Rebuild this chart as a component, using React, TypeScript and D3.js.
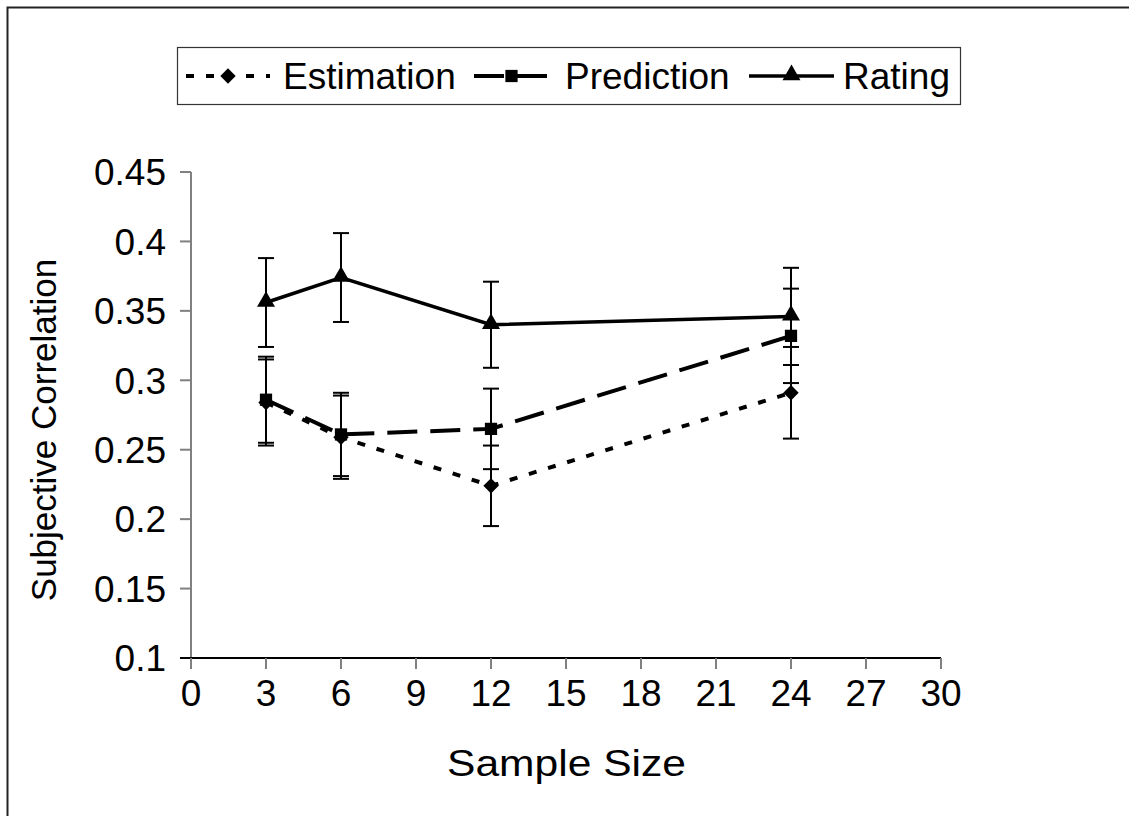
import React from "react";
import * as d3 from "d3";

const sampleSizes = [3, 6, 12, 24];
const estimation = [0.284, 0.259, 0.224, 0.291];
const estimationErr = [0.031, 0.03, 0.029, 0.033];
const prediction = [0.286, 0.261, 0.265, 0.332];
const predictionErr = [0.031, 0.03, 0.029, 0.034];
const rating = [0.356, 0.374, 0.34, 0.346];
const ratingErr = [0.032, 0.032, 0.031, 0.035];

const xTicks = [0, 3, 6, 9, 12, 15, 18, 21, 24, 27, 30];
const yTicks = [0.1, 0.15, 0.2, 0.25, 0.3, 0.35, 0.4, 0.45];
const seriesNames = ["Estimation", "Prediction", "Rating"];

const W = 1129;
const H = 816;
const FONT = "'Liberation Sans', Arial, sans-serif";

const x = d3.scaleLinear().domain([0, 30]).range([191, 941]);
const y = d3.scaleLinear().domain([0.1, 0.45]).range([658, 172]);

type Series = {
  name: string;
  values: number[];
  err: number[];
  dash: string;
  width: number;
  marker: "diamond" | "square" | "triangle";
};

const series: Series[] = [
  { name: seriesNames[0], values: estimation, err: estimationErr, dash: "8,12", width: 4, marker: "diamond" },
  { name: seriesNames[1], values: prediction, err: predictionErr, dash: "30,13", width: 4, marker: "square" },
  { name: seriesNames[2], values: rating, err: ratingErr, dash: "", width: 3.5, marker: "triangle" },
];

const symbolFor = (m: Series["marker"]) => {
  if (m === "diamond") return d3.symbol().type(d3.symbolDiamond2).size(150)();
  if (m === "square") return d3.symbol().type(d3.symbolSquare).size(150)();
  return d3.symbol().type(d3.symbolTriangle).size(140)();
};

const Marker = ({ m, cx, cy }: { m: Series["marker"]; cx: number; cy: number }) => {
  const d = symbolFor(m) || "";
  const dy = m === "triangle" ? -1 : 0;
  return <path d={d} transform={`translate(${cx},${cy + dy})`} fill="#000" />;
};

const line = d3
  .line<number>()
  .x((_, i) => x(sampleSizes[i]))
  .y((v) => y(v));

export default function App() {
  const legendItems = [
    { s: series[0], x0: 186, x1: 270, tx: 283 },
    { s: series[1], x0: 474, x1: 549, tx: 565 },
    { s: series[2], x0: 749, x1: 834, tx: 843 },
  ];
  return (
    <div style={{ position: "absolute", left: 0, top: 0 }}>
      <svg width={W} height={H} style={{ display: "block", background: "#fff" }}>
        <rect x={7.5} y={7.5} width={W + 20} height={H + 20} fill="none" stroke="#222" strokeWidth={2} />

        {/* legend */}
        <rect x={177.5} y={47.5} width={783} height={57} fill="#fff" stroke="#333" strokeWidth={1.2} />
        {legendItems.map((it) => (
          <g key={it.s.name}>
            <line
              x1={it.x0}
              x2={it.x1}
              y1={76}
              y2={76}
              stroke="#000"
              strokeWidth={it.s.width}
              strokeDasharray={it.s.dash}
            />
            <Marker m={it.s.marker} cx={(it.x0 + it.x1) / 2} cy={76} />
            <text x={it.tx} y={89} fontFamily={FONT} fontSize={37} fill="#000">
              {it.s.name}
            </text>
          </g>
        ))}

        {/* axes */}
        <line x1={x(0)} x2={x(0)} y1={y(0.45)} y2={y(0.1)} stroke="#808080" strokeWidth={2} />
        {yTicks.map((t) => (
          <g key={"y" + t}>
            <line x1={x(0) - 11} x2={x(0)} y1={y(t)} y2={y(t)} stroke={t === 0.1 ? "#000" : "#808080"} strokeWidth={2} />
            <text
              x={166}
              y={y(t)}
              dy="0.36em"
              textAnchor="end"
              fontFamily={FONT}
              fontSize={37}
              fill="#000"
            >
              {d3.format("")(t)}
            </text>
          </g>
        ))}
        <line x1={x(0) - 11} x2={x(30)} y1={y(0.1)} y2={y(0.1)} stroke="#000" strokeWidth={2} />
        {xTicks.map((t) => (
          <g key={"x" + t}>
            <line x1={x(t)} x2={x(t)} y1={y(0.1)} y2={y(0.1) + 11} stroke="#808080" strokeWidth={2} />
            <text x={x(t)} y={706} textAnchor="middle" fontFamily={FONT} fontSize={37} fill="#000">
              {t}
            </text>
          </g>
        ))}
        <text
          x={447}
          y={776}
          fontFamily={FONT}
          fontSize={37}
          textLength={239}
          lengthAdjust="spacingAndGlyphs"
          fill="#000"
        >
          Sample Size
        </text>
        <text
          transform={`translate(56,430) rotate(-90)`}
          textAnchor="middle"
          fontFamily={FONT}
          fontSize={35}
          fill="#000"
        >
          Subjective Correlation
        </text>

        {/* error bars */}
        {series.map((s) =>
          s.values.map((v, i) => {
            const cx = x(sampleSizes[i]);
            const top = y(v + s.err[i]);
            const bot = y(v - s.err[i]);
            return (
              <g key={s.name + "e" + i} stroke="#000" strokeWidth={2}>
                <line x1={cx} x2={cx} y1={top} y2={bot} />
                <line x1={cx - 8} x2={cx + 8} y1={top} y2={top} />
                <line x1={cx - 8} x2={cx + 8} y1={bot} y2={bot} />
              </g>
            );
          })
        )}

        {/* lines */}
        {series.map((s) => (
          <path
            key={s.name + "l"}
            d={line(s.values) || ""}
            fill="none"
            stroke="#000"
            strokeWidth={s.width}
            strokeDasharray={s.dash}
          />
        ))}
        {series.map((s) =>
          s.values.map((v, i) => (
            <Marker key={s.name + "m" + i} m={s.marker} cx={x(sampleSizes[i])} cy={y(v)} />
          ))
        )}
      </svg>
    </div>
  );
}
